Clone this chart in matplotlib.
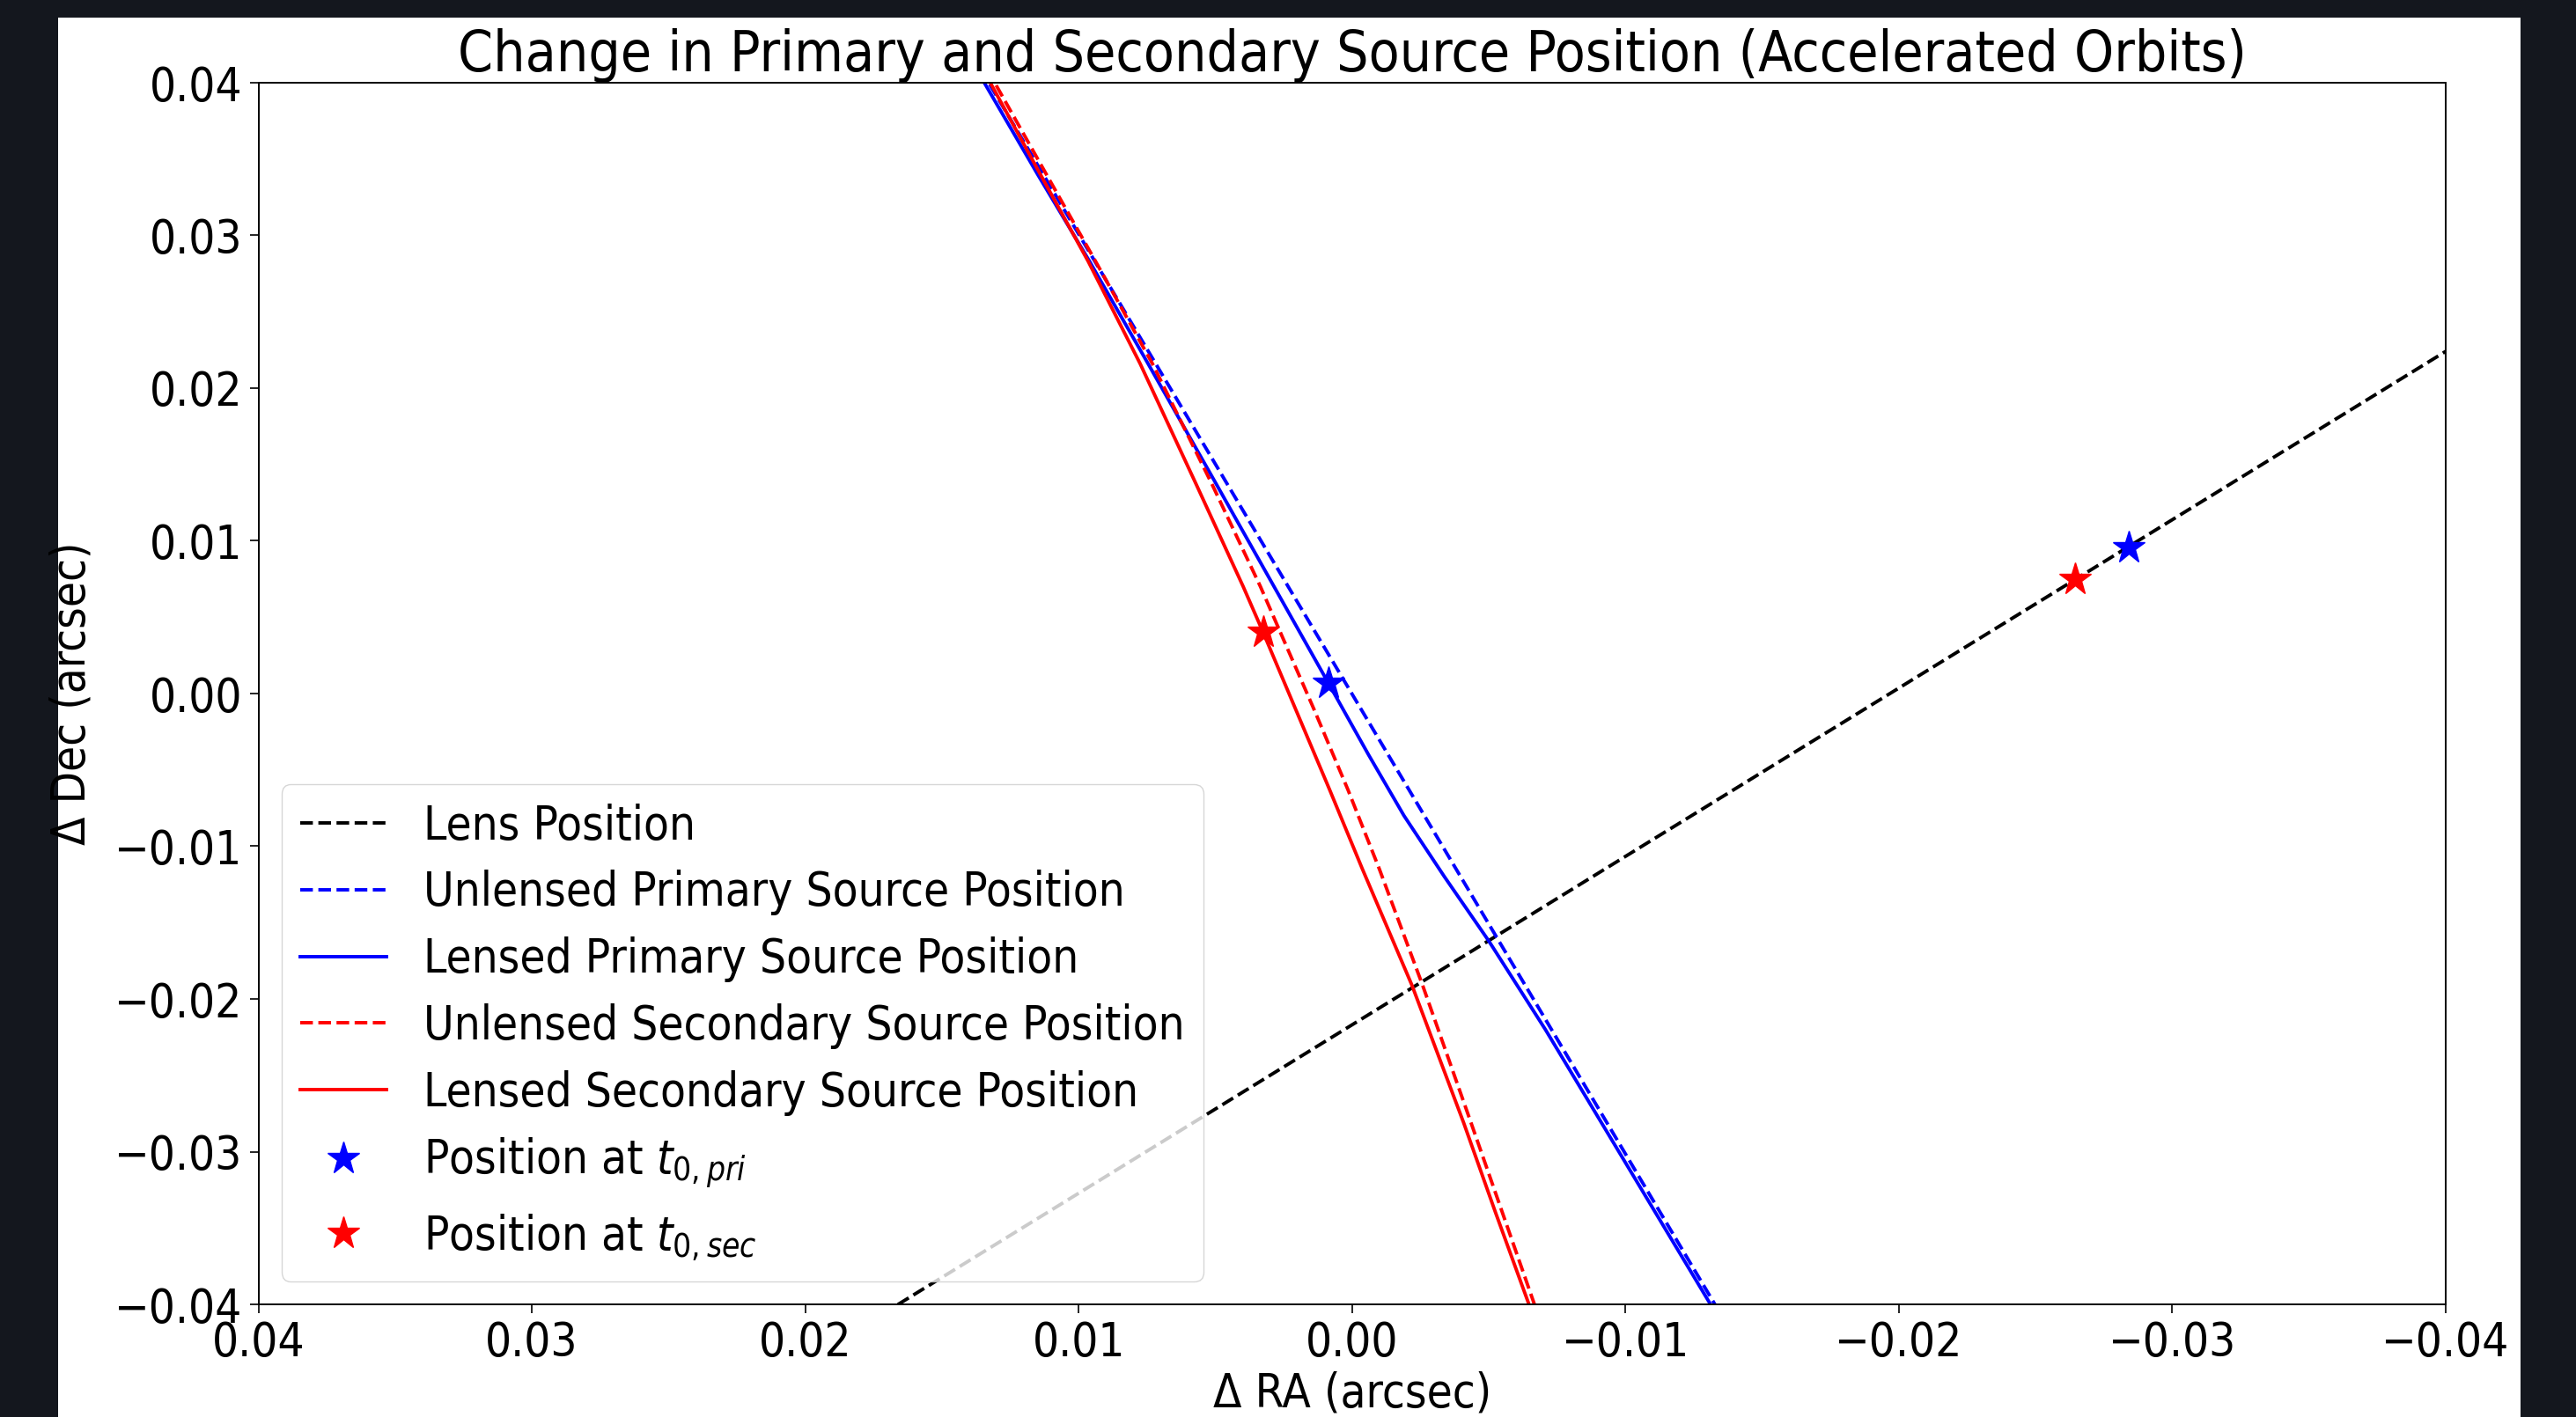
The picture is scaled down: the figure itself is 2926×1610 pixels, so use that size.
import matplotlib
matplotlib.use("Agg")
import matplotlib.pyplot as plt
from matplotlib.patches import Rectangle

# ---------------- data (arcsec) ----------------
lens_ra = [0.0200, 0.0050, -0.0050, -0.0150, -0.0250, -0.0450]
lens_dec = [-0.04375, -0.02721, -0.01618, -0.00515, 0.00587, 0.02792]

unl_pri_ra = [0.01495, 0.00665, 0.00001, -0.00663, -0.01493]
unl_pri_dec = [0.045, 0.020, 0.000, -0.020, -0.045]

len_pri_ra = [0.01510, 0.01345, 0.01150, 0.00960, 0.00746, 0.00496, 0.00282, 0.00087,
              -0.00060, -0.00190, -0.00338, -0.00500, -0.00707, -0.00912, -0.01110,
              -0.01311, -0.01478]
len_pri_dec = [0.045, 0.040, 0.034, 0.0283, 0.0216, 0.0137, 0.0069, 0.0007,
               -0.0040, -0.0080, -0.0120, -0.0162, -0.0220, -0.0281, -0.0340,
               -0.040, -0.045]

unl_sec_ra = [0.01465, 0.01307, 0.01118, 0.00938, 0.00730, 0.00512, 0.00335, 0.00262,
              0.00140, 0.00015, -0.00100, -0.00258, -0.00435, -0.00550, -0.00667, -0.00762]
unl_sec_dec = [0.045, 0.040, 0.034, 0.0283, 0.0216, 0.0137, 0.0070, 0.0040,
               -0.0010, -0.0063, -0.0115, -0.0191, -0.0281, -0.0340, -0.040, -0.045]

len_sec_ra = [0.01480, 0.01323, 0.01140, 0.00965, 0.00775, 0.00570, 0.00398, 0.00325,
              0.00207, 0.00082, -0.00038, -0.00219, -0.00408, -0.00525, -0.00647, -0.00745]
len_sec_dec = [0.045, 0.040, 0.034, 0.0283, 0.0216, 0.0137, 0.0070, 0.0040,
               -0.0010, -0.0063, -0.0115, -0.0191, -0.0281, -0.0340, -0.040, -0.045]

t0_pri_ra = [0.00087, -0.0284]
t0_pri_dec = [0.00069, 0.00957]
t0_sec_ra = [0.00325, -0.02644]
t0_sec_dec = [0.00403, 0.00749]

xticks = [0.04, 0.03, 0.02, 0.01, 0.00, -0.01, -0.02, -0.03, -0.04]
yticks = [-0.04, -0.03, -0.02, -0.01, 0.00, 0.01, 0.02, 0.03, 0.04]

# ---------------- style ----------------
plt.rcParams['font.family'] = ['DejaVu Sans']
plt.rcParams['font.stretch'] = 'condensed'
plt.rcParams['mathtext.fontset'] = 'dejavusans'

W, H = 2926, 1610
fig = plt.figure(figsize=(W / 100, H / 100), dpi=100, facecolor='#14171e')
panel = Rectangle((66 / W, 0), (2863 - 66) / W, (H - 20) / H,
                  transform=fig.transFigure, facecolor='white',
                  edgecolor='none', zorder=-10)
fig.add_artist(panel)

ax = fig.add_axes([293.5 / W, (H - 1482) / H, (2778 - 293.5) / W, (1482 - 94) / H])
ax.set_zorder(1)

lw = 2.8
ms = 28
ax.plot(lens_ra, lens_dec, 'k--', lw=lw, label='Lens Position')
ax.plot(unl_pri_ra, unl_pri_dec, color='blue', ls='--', lw=lw, label='Unlensed Primary Source Position')
ax.plot(len_pri_ra, len_pri_dec, color='blue', ls='-', lw=lw, label='Lensed Primary Source Position')
ax.plot(unl_sec_ra, unl_sec_dec, color='red', ls='--', lw=lw, label='Unlensed Secondary Source Position')
ax.plot(len_sec_ra, len_sec_dec, color='red', ls='-', lw=lw, label='Lensed Secondary Source Position')
ax.plot(t0_pri_ra, t0_pri_dec, ls='none', marker='*', color='blue', ms=ms, label=r'Position at $t_{0,pri}$')
ax.plot(t0_sec_ra, t0_sec_dec, ls='none', marker='*', color='red', ms=ms, label=r'Position at $t_{0,sec}$')

ax.set_xlim(0.04, -0.04)
ax.set_ylim(-0.04, 0.04)
ax.set_xticks(xticks)
ax.set_yticks(yticks)

fs = 38
ax.tick_params(labelsize=fs, length=7, width=1.2, pad=6)
for s in ax.spines.values():
    s.set_linewidth(1.4)

ax.set_title('Change in Primary and Secondary Source Position (Accelerated Orbits)', fontsize=46, pad=6)
ax.set_xlabel('Δ RA (arcsec)', fontsize=fs, labelpad=4)
ax.set_ylabel('Δ Dec (arcsec)', fontsize=fs, labelpad=16)

ax.legend(loc='lower left', fontsize=fs, handlelength=1.85, labelspacing=0.45)

fig.savefig('out.png', dpi=100, facecolor=fig.get_facecolor())
